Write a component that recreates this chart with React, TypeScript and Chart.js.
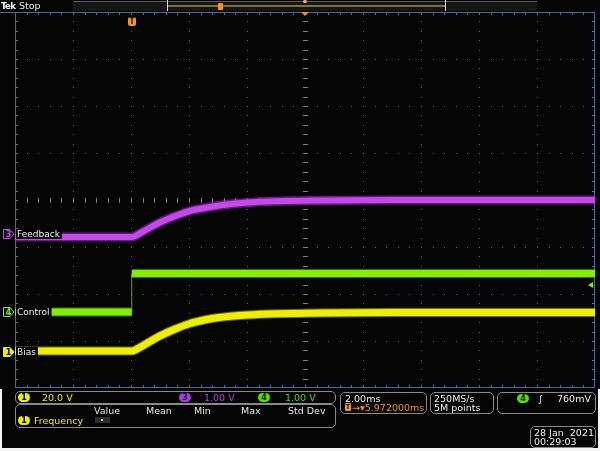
import React, { useEffect, useRef } from 'react';
import { Chart, registerables } from 'chart.js';

Chart.register(...registerables);

// Time axis in ms relative to trigger (2 ms/div, 10 div, trigger offset 5.972 ms at centre)
const timeStartMs = -4.028;
const timeEndMs = 15.972;
const triggerOffsetMs = 5.972;

// Vertical axis in graticule divisions (-4 .. 4)
const divMin = -4;
const divMax = 4;

const feedbackTimeMs = [-4.028, 0, 0.3, 0.6, 1.0, 1.5, 2.0, 2.5, 3.0, 4.0, 5.0, 6.5, 9.0, 15.972];
const feedbackDiv = [-0.787, -0.787, -0.702, -0.596, -0.468, -0.34, -0.234, -0.17, -0.117, -0.053, -0.026, -0.011, 0, 0];

const biasTimeMs = [-4.028, 0, 0.3, 0.6, 1.0, 1.5, 2.0, 2.5, 3.0, 4.0, 5.0, 6.5, 9.0, 15.972];
const biasDiv = [-3.213, -3.213, -3.128, -3.021, -2.883, -2.745, -2.628, -2.553, -2.5, -2.447, -2.421, -2.404, -2.394, -2.394];

const controlTimeMs = [-4.028, 0, 0, 15.972];
const controlDiv = [-2.383, -2.383, -1.564, -1.564];

const triggerLevelDiv = -1.8;

const channelLabels = ['Feedback', 'Control', 'Bias'];
const measureHeaders = ['Value', 'Mean', 'Min', 'Max', 'Std Dev'];

const YEL = 'rgb(238,238,0)';
const PUR = 'rgb(198,72,234)';
const GRN = 'rgb(130,238,0)';
const ORG = 'rgb(240,150,40)';

const pts = (xs: number[], ys: number[]) => xs.map((x, i) => ({ x, y: ys[i] }));

const scopePlugin = {
  id: 'scope',
  beforeDraw(chart: any) {
    const { ctx, width, height } = chart;
    ctx.save();
    ctx.fillStyle = '#050505';
    ctx.fillRect(0, 0, width, height);
    ctx.restore();
  },
  beforeDatasetsDraw(chart: any) {
    const { ctx } = chart;
    const { left, right, top, bottom } = chart.chartArea;
    const w = right - left;
    const h = bottom - top;
    const dx = w / 10;
    const dy = h / 8;
    ctx.save();
    ctx.fillStyle = 'rgba(125,125,125,0.8)';
    for (let i = 1; i < 10; i++) {
      const x = Math.round(left + i * dx);
      for (let k = 1; k < 40; k++) {
        ctx.fillRect(x, Math.round(top + (k * dy) / 5), 1, 1);
      }
    }
    for (let j = 1; j < 8; j++) {
      const y = Math.round(top + j * dy);
      for (let k = 1; k < 50; k++) {
        ctx.fillRect(Math.round(left + (k * dx) / 5), y, 1, 1);
      }
    }
    const cx = Math.round(left + 5 * dx);
    const cy = Math.round(top + 4 * dy);
    ctx.fillStyle = 'rgba(140,140,140,0.9)';
    for (let k = 1; k < 40; k++) ctx.fillRect(cx - 2, Math.round(top + (k * dy) / 5), 5, 1);
    for (let k = 1; k < 50; k++) ctx.fillRect(Math.round(left + (k * dx) / 5), cy - 2, 1, 5);
    // border ticks
    ctx.fillStyle = 'rgba(90,125,170,0.9)';
    for (let k = 1; k < 50; k++) {
      const x = Math.round(left + (k * dx) / 5);
      ctx.fillRect(x, top, 1, 3);
      ctx.fillRect(x, bottom - 3, 1, 3);
    }
    for (let k = 1; k < 40; k++) {
      const y = Math.round(top + (k * dy) / 5);
      ctx.fillRect(left, y, 3, 1);
      ctx.fillRect(right - 3, y, 3, 1);
    }
    ctx.strokeStyle = 'rgb(70,108,155)';
    ctx.lineWidth = 1;
    ctx.beginPath();
    ctx.moveTo(0, Math.round(top) + 0.5);
    ctx.lineTo(right, Math.round(top) + 0.5);
    ctx.stroke();
    ctx.strokeRect(Math.round(left) + 0.5, Math.round(top) + 0.5, Math.round(w) - 1, Math.round(h) - 1);
    ctx.restore();
  },
  afterDatasetsDraw(chart: any) {
    const { ctx } = chart;
    const { left, right, top } = chart.chartArea;
    const ys = chart.scales.y;
    const xs = chart.scales.x;
    ctx.save();
    const items = [
      { text: channelLabels[0], v: feedbackDiv[0], off: -3, num: '3', col: PUR, filled: false },
      { text: channelLabels[1], v: controlDiv[0], off: 0, num: '4', col: GRN, filled: false },
      { text: channelLabels[2], v: biasDiv[0], off: 0.5, num: '1', col: YEL, filled: true },
    ];
    ctx.font = '9px "DejaVu Sans"';
    ctx.textBaseline = 'middle';
    for (const it of items) {
      const y = Math.round(ys.getPixelForValue(it.v) + it.off);
      const tw = ctx.measureText(it.text).width;
      ctx.fillStyle = '#000';
      ctx.fillRect(left + 1, y - 5, tw + 3, 10);
      ctx.fillStyle = '#f2f2f2';
      ctx.textAlign = 'left';
      ctx.fillText(it.text, left + 2, y + 0.5);
      // channel tag
      ctx.beginPath();
      ctx.moveTo(3.5, y - 4.5);
      ctx.lineTo(10, y - 4.5);
      ctx.lineTo(14, y);
      ctx.lineTo(10, y + 4.5);
      ctx.lineTo(3.5, y + 4.5);
      ctx.closePath();
      ctx.fillStyle = it.filled ? it.col : '#180820';
      if (!it.filled && it.num === '4') ctx.fillStyle = '#0a1a04';
      ctx.fill();
      ctx.strokeStyle = it.col;
      ctx.lineWidth = 1;
      ctx.stroke();
      ctx.fillStyle = it.filled ? '#000' : it.col;
      ctx.font = 'bold 8px "DejaVu Sans"';
      ctx.textAlign = 'center';
      ctx.fillText(it.num, 8.5, y + 0.5);
      ctx.font = '9px "DejaVu Sans"';
    }
    // trigger time marker (T)
    const tx = Math.round(xs.getPixelForValue(0));
    ctx.fillStyle = ORG;
    ctx.beginPath();
    ctx.roundRect(tx - 4, top + 5, 8, 9, 2);
    ctx.fill();
    ctx.fillStyle = '#3a1a00';
    ctx.font = 'bold 8px "DejaVu Sans"';
    ctx.textAlign = 'center';
    ctx.fillText('T', tx, top + 10);
    // trigger position marker at top centre
    const px = Math.round(xs.getPixelForValue(triggerOffsetMs));
    ctx.fillStyle = ORG;
    ctx.beginPath();
    ctx.moveTo(px - 4, top);
    ctx.lineTo(px + 4, top);
    ctx.lineTo(px, top + 4);
    ctx.closePath();
    ctx.fill();
    // trigger level arrow on right
    const ly = Math.round(ys.getPixelForValue(triggerLevelDiv));
    ctx.fillStyle = GRN;
    ctx.beginPath();
    ctx.moveTo(right - 7, ly);
    ctx.lineTo(right - 2, ly - 3);
    ctx.lineTo(right - 2, ly + 3);
    ctx.closePath();
    ctx.fill();
    ctx.restore();
  },
};

const abs = (left: number, top: number, extra: any = {}) => ({ position: 'absolute' as const, left, top, ...extra });

function Txt({ x, y, c, children, size = 9.5 }: any) {
  return (
    <div style={abs(x, y, { color: c, fontSize: size, lineHeight: '11px', whiteSpace: 'pre' })}>{children}</div>
  );
}

function Box({ x, y, w, h }: any) {
  return (
    <div
      style={abs(x, y, {
        width: w,
        height: h,
        border: '1px solid #8a8a8a',
        borderRadius: 5,
        boxSizing: 'border-box',
      })}
    />
  );
}

function Pill({ x, y, bg, fg = '#000', n }: any) {
  return (
    <div
      style={abs(x, y, {
        width: 12,
        height: 9,
        borderRadius: 5,
        background: bg,
        color: fg,
        fontSize: 8,
        lineHeight: '9px',
        textAlign: 'center',
        fontWeight: 'bold',
      })}
    >
      {n}
    </div>
  );
}

export default function App() {
  const ref = useRef<HTMLCanvasElement | null>(null);
  useEffect(() => {
    if (!ref.current) return;
    const chart = new Chart(ref.current, {
      type: 'line',
      data: {
        datasets: [
          {
            label: 'Feedback',
            data: pts(feedbackTimeMs, feedbackDiv),
            borderColor: PUR,
            borderWidth: 6,
            cubicInterpolationMode: 'monotone',
          },
          {
            label: 'Feedback halo',
            data: pts(feedbackTimeMs, feedbackDiv),
            borderColor: 'rgba(165,45,205,0.6)',
            borderWidth: 9,
            cubicInterpolationMode: 'monotone',
          },
          {
            label: 'Control',
            data: pts(controlTimeMs, controlDiv),
            borderColor: GRN,
            borderWidth: 7,
            segment: {
              borderWidth: (c: any) => (c.p0DataIndex === 1 ? 1 : 7),
              borderColor: (c: any) => (c.p0DataIndex === 1 ? 'rgba(110,190,50,0.8)' : GRN),
            },
          },
          {
            label: 'Control halo',
            data: pts(controlTimeMs, controlDiv),
            borderColor: 'rgba(110,215,0,0.5)',
            borderWidth: 9,
            segment: {
              borderColor: (c: any) => (c.p0DataIndex === 1 ? 'rgba(0,0,0,0)' : 'rgba(110,215,0,0.5)'),
            },
          },
          {
            label: 'Bias',
            data: pts(biasTimeMs, biasDiv),
            borderColor: YEL,
            borderWidth: 7,
            cubicInterpolationMode: 'monotone',
          },
          {
            label: 'Bias halo',
            data: pts(biasTimeMs, biasDiv),
            borderColor: 'rgba(215,215,0,0.5)',
            borderWidth: 9,
            cubicInterpolationMode: 'monotone',
          },
        ],
      },
      options: {
        responsive: false,
        animation: false,
        events: [],
        layout: { padding: { left: 15, right: 5, top: 12, bottom: 63 } },
        elements: { point: { radius: 0 }, line: { tension: 0, borderCapStyle: 'butt' } },
        scales: {
          x: { type: 'linear', min: timeStartMs, max: timeEndMs, display: false },
          y: { type: 'linear', min: divMin, max: divMax, display: false },
        },
        plugins: { legend: { display: false }, tooltip: { enabled: false } },
      },
      plugins: [scopePlugin],
    } as any);
    return () => chart.destroy();
  }, []);

  return (
    <div
      style={{
        position: 'fixed',
        left: 0,
        top: 0,
        width: 600,
        height: 451,
        background: '#050505',
        overflow: 'hidden',
        fontFamily: '"DejaVu Sans", sans-serif',
      }}
    >
      <canvas ref={ref} width={600} height={451} style={abs(0, 0, { width: 600, height: 451 })} />
      {/* top bar */}
      <div style={abs(1, 0, { color: '#fff', fontSize: 8.5, lineHeight: '12px', fontWeight: 'bold', letterSpacing: -0.6 })}>Tek</div>
      <div style={abs(19, 0, { color: '#f0f0f0', fontSize: 9.5, lineHeight: '12px' })}>Stop</div>
      <div style={abs(73, 1, { width: 464, height: 10, background: '#161616', borderTop: '1px solid #5a5a5a', boxSizing: 'border-box' })} />
      <div style={abs(167, 5, { width: 278, height: 2, background: '#7c7234' })} />
      <div style={abs(167, 0, { width: 1, height: 11, background: '#e0e0e0' })} />
      <div style={abs(445, 0, { width: 1, height: 11, background: '#e0e0e0' })} />
      <div style={abs(218, 3, { width: 5, height: 7, background: ORG, borderRadius: 1 })} />
      <div style={abs(303, 0, { width: 4, height: 3, background: '#e6b070', borderRadius: 2 })} />

      {/* bottom panel frame */}
      <div style={abs(0, 448, { width: 600, height: 3, background: '#f4f4f4' })} />
      <div style={abs(0, 389, { width: 2, height: 62, background: '#f4f4f4' })} />
      <div style={abs(598, 389, { width: 2, height: 62, background: '#f4f4f4' })} />

      {/* channel scale box */}
      <Box x={15} y={391} w={321} h={13} />
      <Pill x={18} y={393} bg={YEL} n="1" />
      <Txt x={42} y={392} c={YEL}>20.0 V</Txt>
      <Pill x={179} y={393} bg="rgb(170,60,220)" fg="#2a0a3a" n="3" />
      <Txt x={204} y={392} c="rgb(170,70,220)">1.00 V</Txt>
      <Pill x={258} y={393} bg="rgb(90,220,0)" fg="#0a2a00" n="4" />
      <Txt x={285} y={392} c="rgb(90,215,0)">1.00 V</Txt>

      {/* measurement box */}
      <Box x={15} y={404} w={321} h={24} />
      <Txt x={94} y={404.5} c="#e6e6e6">{measureHeaders[0]}</Txt>
      <Txt x={146} y={404.5} c="#e6e6e6">{measureHeaders[1]}</Txt>
      <Txt x={194} y={404.5} c="#e6e6e6">{measureHeaders[2]}</Txt>
      <Txt x={241} y={404.5} c="#e6e6e6">{measureHeaders[3]}</Txt>
      <Txt x={288} y={404.5} c="#e6e6e6">{measureHeaders[4]}</Txt>
      <Pill x={18} y={416} bg={YEL} n="1" />
      <Txt x={34} y={414.5} c={YEL}>Frequency</Txt>
      <div style={abs(95, 417, { width: 15, height: 6, background: '#2c2c2c' })} />
      <div style={abs(101, 419, { width: 1.5, height: 1.5, background: '#ccc' })} />

      {/* horizontal box */}
      <Box x={340} y={392} w={87} h={22} />
      <Txt x={345} y={392.5} c="#f0f0f0">2.00ms</Txt>
      <div style={abs(345, 403, { width: 6, height: 8, background: ORG, borderRadius: 1, fontSize: 7, lineHeight: '8px', color: '#3a1a00', textAlign: 'center', fontWeight: 'bold' })}>T</div>
      <Txt x={352} y={401.5} c={ORG}>→▾5.972000ms</Txt>

      {/* acquisition box */}
      <Box x={430} y={392} w={64} h={22} />
      <Txt x={434} y={392.5} c="#f0f0f0">250MS/s</Txt>
      <Txt x={434} y={401.5} c="#f0f0f0">5M points</Txt>

      {/* trigger box */}
      <Box x={497} y={392} w={99} h={22} />
      <Pill x={517} y={394} bg="rgb(90,220,0)" fg="#0a2a00" n="4" />
      <Txt x={538} y={392.5} c="#f0f0f0">∫</Txt>
      <Txt x={557} y={392.5} c="#f0f0f0">760mV</Txt>

      {/* date box */}
      <Box x={530} y={426} w={66} h={22} />
      <Txt x={534} y={426.5} c="#f0f0f0">28 Jan  2021</Txt>
      <Txt x={534} y={435.5} c="#f0f0f0">00:29:03</Txt>
    </div>
  );
}
